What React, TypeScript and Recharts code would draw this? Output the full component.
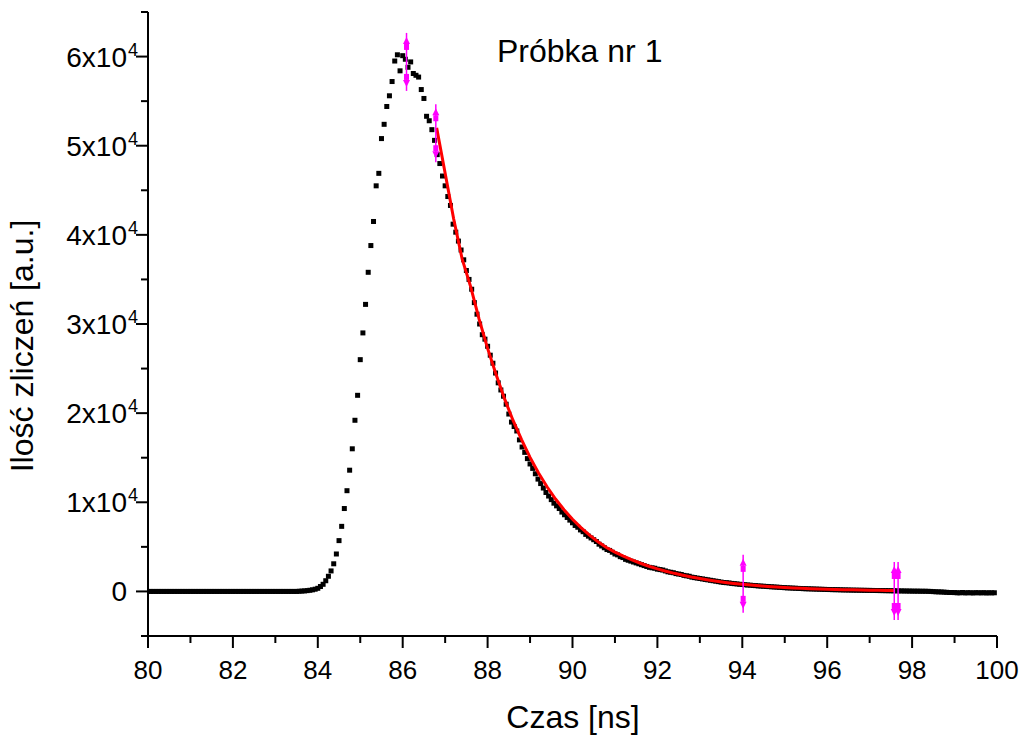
import React from 'react';
import { ComposedChart, Scatter, XAxis, YAxis } from 'recharts';

// detector channel grid: 80 ns start, 0.0625 ns per channel
const T_START = 80;
const T_STEP = 0.0625;

// counts per channel, 16 channels (1 ns) per row
const counts = [
  0, 0, 0, 0, 0, 0, 0, 0, 0, 0, 0, 0, 0, 0, 0, 0,
  0, 0, 0, 0, 0, 0, 0, 0, 0, 0, 0, 0, 0, 0, 0, 0,
  0, 0, 0, 0, 0, 0, 0, 0, 0, 0, 0, 0, 0, 0, 0, 0,
  0, 0, 0, 0, 0, 0, 0, 0, 0, 20, 40, 60, 90, 130, 180, 250,
  350, 550, 800, 1200, 1700, 2300, 3100, 4200, 5700, 7300, 9300, 11300, 13600, 16000, 19200, 22000,
  26000, 29000, 32200, 35800, 38800, 41500, 45500, 46900, 50800, 52400, 54400, 55600, 57200, 59500, 60200, 58400,
  60100, 59700, 58800, 59400, 58100, 57900, 57700, 56300, 55300, 53300, 52800, 51800, 50600, 49000, 48000, 46600,
  45500, 44300, 43300, 41200, 40300, 39300, 38300, 37200, 36000, 35000, 33900, 32400, 31100, 30000, 28800, 28300,
  27500, 26500, 25600, 24500, 23400, 22600, 21900, 21000, 19900, 19000, 18500, 18000, 17000, 16200, 15600, 14900,
  14300, 13800, 13200, 12600, 12100, 11600, 11100, 10700, 10300, 9900, 9600, 9300, 8900, 8600, 8300, 8000,
  7700, 7400, 7200, 6900, 6700, 6400, 6200, 6000, 5800, 5600, 5300, 5100, 4900, 4700, 4600, 4400,
  4200, 4100, 3900, 3800, 3600, 3500, 3400, 3300, 3200, 3100, 3000, 2900, 2800, 2700, 2650, 2600,
  2500, 2450, 2400, 2300, 2200, 2150, 2100, 2000, 1950, 1900, 1800, 1750, 1700, 1600, 1550, 1500,
  1450, 1400, 1350, 1300, 1250, 1200, 1150, 1100, 1050, 1000, 980, 950, 900, 870, 840, 800,
  780, 750, 720, 700, 670, 650, 620, 600, 580, 560, 540, 520, 500, 480, 460, 440,
  420, 400, 390, 370, 360, 340, 330, 310, 300, 290, 280, 270, 260, 250, 240, 230,
  220, 210, 200, 195, 190, 180, 170, 165, 160, 150, 145, 140, 135, 130, 125, 120,
  115, 110, 105, 100, 95, 90, 85, 80, 75, 70, 65, 60, 55, 50, 45, 40,
  35, 30, 30, 25, 20, 20, 10, 0, -20, -40, -50, -60, -80, -100, -120, -120,
  -130, -150, -160, -120, -170, -140, -150, -170, -140, -150, -160, -140, -170, -150, -160, -150,
];

// exponential decay fit (red)
const fitTimes = [
  86.8, 87.0, 87.2, 87.4, 87.6, 87.8, 88.0, 88.2, 88.4, 88.6, 88.8, 89.0, 89.2, 89.4,
  89.6, 89.8, 90.0, 90.2, 90.4, 90.6, 90.8, 91.0, 91.2, 91.4, 91.6, 91.8, 92.0, 92.2,
  92.4, 92.6, 92.8, 93.0, 93.2, 93.4, 93.6, 93.8, 94.0, 94.2, 94.4, 94.6, 94.8, 95.0,
  95.2, 95.4, 95.6, 95.8, 96.0, 96.2, 96.4, 96.6, 96.8, 97.0, 97.2, 97.4, 97.6,
];
const fitValues = [
  52000, 46900, 41800, 37300, 34200, 30540, 27260, 24330, 21600, 19180, 17030, 15040, 13290, 11740,
  10370, 9160, 8090, 7150, 6310, 5580, 4930, 4410, 3950, 3530, 3160, 2830, 2530, 2270,
  2030, 1820, 1610, 1440, 1280, 1140, 1010, 900, 800, 710, 630, 560, 500, 440,
  390, 350, 310, 280, 250, 220, 200, 180, 160, 140, 130, 115, 100,
];

// data-reader markers (magenta)
const markerTimes = [86.09, 86.78, 94.02, 97.58, 97.67];
const markerValues = [59400, 51400, 850, 50, 50];

const xTicks = [80, 81, 82, 83, 84, 85, 86, 87, 88, 89, 90, 91, 92, 93, 94, 95, 96, 97, 98, 99, 100];
const yTicks = [-5000, 0, 5000, 10000, 15000, 20000, 25000, 30000, 35000, 40000, 45000, 50000, 55000, 60000, 65000];

const dataPoints = counts.map((v, i) => ({ t: T_START + i * T_STEP, v }));
const fitPoints = fitTimes.map((t, i) => ({ t, v: fitValues[i] }));
const markerPoints = markerTimes.map((t, i) => ({ t, v: markerValues[i] }));

const FONT = '"Liberation Sans", Arial, sans-serif';

const XTick = ({ x, y, payload }: any) => {
  const major = payload.value % 2 === 0;
  return (
    <g>
      <line x1={x} x2={x} y1={y} y2={y + (major ? 12 : 7)} stroke="#000" strokeWidth={2} />
      {major && (
        <text x={x} y={y + 43} textAnchor="middle" fontFamily={FONT} fontSize={26} fill="#000">
          {payload.value}
        </text>
      )}
    </g>
  );
};

const YTick = ({ x, y, payload }: any) => {
  const v = payload.value;
  const major = v % 10000 === 0 && v >= 0 && v <= 60000;
  return (
    <g>
      <line x1={x - (major ? 12 : 7)} x2={x} y1={y} y2={y} stroke="#000" strokeWidth={2} />
      {major && (
        <text x={x - 21} y={y + 10} textAnchor="end" fontFamily={FONT} fontSize={28} fill="#000">
          {v === 0 ? '0' : `${v / 10000}x10`}
        </text>
      )}
      {major && v !== 0 && (
        <text x={x - 20} y={y - 1} textAnchor="start" fontFamily={FONT} fontSize={18} fill="#000">
          4
        </text>
      )}
    </g>
  );
};

const Square = ({ cx, cy }: any) => (
  <rect x={cx - 2.5} y={cy - 2.5} width={5} height={5} fill="#000" />
);

const NoDot = () => <g />;

const Marker = ({ cx, cy }: any) => (
  <g fill="#ff00ff">
    <line x1={cx} x2={cx} y1={cy - 29} y2={cy + 29} stroke="#ff00ff" strokeWidth={1.5} />
    <polygon points={`${cx},${cy - 25} ${cx - 3.5},${cy - 18} ${cx + 3.5},${cy - 18}`} />
    <rect x={cx - 2.5} y={cy - 18} width={5} height={6} />
    <rect x={cx - 2.5} y={cy + 12} width={5} height={6} />
    <polygon points={`${cx},${cy + 25} ${cx - 3.5},${cy + 18} ${cx + 3.5},${cy + 18}`} />
  </g>
);

export default function App() {
  return (
    <div style={{ position: 'absolute', left: 0, top: 0, width: 1023, height: 740, background: '#fff' }}>
      <ComposedChart width={1023} height={740} margin={{ top: 12, right: 26, left: 0, bottom: 0 }}>
        <XAxis
          dataKey="t"
          type="number"
          domain={[80, 100]}
          ticks={xTicks}
          interval={0}
          allowDataOverflow
          height={104}
          tickSize={0}
          tickMargin={0}
          tickLine={false}
          tick={<XTick />}
          axisLine={{ stroke: '#000', strokeWidth: 2 }}
        />
        <XAxis
          xAxisId="top"
          orientation="top"
          dataKey="t"
          type="number"
          domain={[80, 100]}
          height={0}
          tick={false}
          tickLine={false}
          axisLine={{ stroke: '#000', strokeWidth: 2 }}
        />
        <YAxis
          type="number"
          domain={[-5000, 65000]}
          ticks={yTicks}
          interval={0}
          allowDataOverflow
          width={148}
          tickSize={0}
          tickMargin={0}
          tickLine={false}
          tick={<YTick />}
          axisLine={{ stroke: '#000', strokeWidth: 2 }}
        />
        <YAxis
          yAxisId="right"
          orientation="right"
          type="number"
          domain={[-5000, 65000]}
          width={0}
          tick={false}
          tickLine={false}
          axisLine={{ stroke: '#000', strokeWidth: 2 }}
        />
        <Scatter data={dataPoints} dataKey="v" shape={<Square />} isAnimationActive={false} />
        <Scatter
          data={fitPoints}
          dataKey="v"
          line={{ stroke: '#ff0000', strokeWidth: 3 }}
          shape={<NoDot />}
          isAnimationActive={false}
        />
        <Scatter data={markerPoints} dataKey="v" shape={<Marker />} isAnimationActive={false} />
      </ComposedChart>
      <svg
        width={1023}
        height={740}
        style={{ position: 'absolute', left: 0, top: 0, pointerEvents: 'none' }}
      >
        <text x={497} y={62} fontFamily={FONT} fontSize={32} fill="#000">
          Próbka nr 1
        </text>
        <text x={573} y={728} textAnchor="middle" fontFamily={FONT} fontSize={32} fill="#000">
          Czas [ns]
        </text>
        <text
          x={33}
          y={346}
          transform="rotate(-90 33 346)"
          textAnchor="middle"
          fontFamily={FONT}
          fontSize={32}
          fill="#000"
        >
          Ilość zliczeń [a.u.]
        </text>
      </svg>
    </div>
  );
}
